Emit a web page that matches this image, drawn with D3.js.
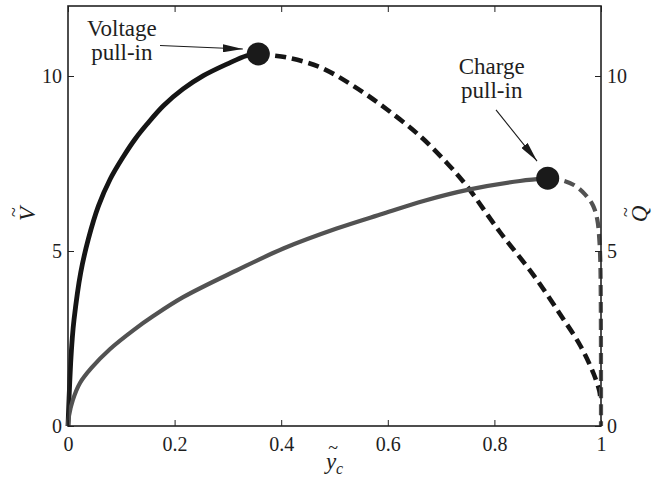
<!DOCTYPE html>
<html>
<head>
<meta charset="utf-8">
<script src="https://cdn.jsdelivr.net/npm/d3@7"></script>
<style>
  body { margin: 0; background: #fff; }
</style>
</head>
<body>
<div id="main"></div>
<script>
// voltage curve, stable branch (solid) and unstable branch (dashed)
var ycVStable = [0, 0.002, 0.005, 0.008, 0.0113, 0.0238, 0.038, 0.057, 0.079, 0.104, 0.126, 0.148, 0.179, 0.216, 0.254, 0.298, 0.335, 0.357];
var vStable = [0, 0.8, 1.8, 2.5, 3.04, 4.38, 5.33, 6.28, 7.05, 7.7, 8.2, 8.62, 9.15, 9.63, 10.01, 10.34, 10.58, 10.63];
var ycVUnstable = [0.357, 0.41, 0.473, 0.535, 0.598, 0.66, 0.71, 0.748, 0.81, 0.873, 0.923, 0.961, 0.986, 0.997, 0.999];
var vUnstable = [10.63, 10.53, 10.25, 9.72, 9.05, 8.29, 7.53, 6.86, 5.55, 4.32, 3.2, 2.3, 1.5, 1.0, 0.75];

// charge curve
var ycQStable = [0, 0.002, 0.009, 0.0225, 0.044, 0.079, 0.123, 0.16, 0.216, 0.317, 0.404, 0.504, 0.592, 0.667, 0.754, 0.848, 0.9];
var qStable = [0, 0.3, 0.74, 1.23, 1.66, 2.2, 2.74, 3.14, 3.68, 4.45, 5.07, 5.64, 6.07, 6.43, 6.76, 7.0, 7.08];
var ycQUnstable = [0.9, 0.925, 0.95, 0.97, 0.985, 0.993, 0.997, 0.999, 1.0];
var qUnstable = [7.08, 7.03, 6.88, 6.62, 6.3, 5.9, 5.3, 4.5, 0];

// pull-in points
var pullIn = [{ yc: 0.357, val: 10.63 }, { yc: 0.9, val: 7.08 }];

var xTicks = [0, 0.2, 0.4, 0.6, 0.8, 1];
var yTicks = [0, 5, 10];

var serif = '"Liberation Serif", "DejaVu Serif", "Times New Roman", serif';
var outerWidth = 669, outerHeight = 480;
var marginTop = 6, marginRight = 68, marginBottom = 54, marginLeft = 68;
var innerWidth = outerWidth - marginLeft - marginRight;
var innerHeight = outerHeight - marginTop - marginBottom;

var xScale = d3.scaleLinear().domain([0, 1]).range([0, innerWidth]);
var yScale = d3.scaleLinear().domain([0, 12]).range([innerHeight, 0]);

var svg = d3.select("#main").append("svg")
    .attr("width", outerWidth)
    .attr("height", outerHeight)
    .style("font-family", serif);

var g = svg.append("g")
    .attr("transform", "translate(" + marginLeft + "," + marginTop + ")");

function zip(xs, ys) {
    return xs.map((d, i) => [d, ys[i]]);
}

var line = d3.line()
    .x(d => xScale(d[0]))
    .y(d => yScale(d[1]))
    .curve(d3.curveCatmullRom.alpha(0.5));

var black = "#151515", grey = "#525252";

g.append("path").attr("d", line(zip(ycVStable, vStable)))
    .attr("fill", "none").attr("stroke", black).attr("stroke-width", 4.8);
g.append("path").attr("d", line(zip(ycVUnstable, vUnstable)))
    .attr("fill", "none").attr("stroke", black).attr("stroke-width", 4.6)
    .attr("stroke-dasharray", "11,6");
g.append("path").attr("d", line(zip(ycQStable, qStable)))
    .attr("fill", "none").attr("stroke", grey).attr("stroke-width", 4.2);
g.append("path").attr("d", line(zip(ycQUnstable, qUnstable)))
    .attr("fill", "none").attr("stroke", grey).attr("stroke-width", 4.2)
    .attr("stroke-dasharray", "11,6");

g.selectAll("circle.pull").data(pullIn).enter()
    .append("circle")
    .attr("class", "pull")
    .attr("cx", d => xScale(d.yc))
    .attr("cy", d => yScale(d.val))
    .attr("r", 11.5)
    .attr("fill", "#1a1a1a");

// axes, ticks pointing inward
function styleAxis(sel) {
    sel.attr("font-family", null);
    sel.select(".domain").remove();
    sel.selectAll(".tick line").attr("stroke", "#222").attr("stroke-width", 1);
    sel.selectAll(".tick text")
        .style("font-family", serif)
        .style("font-size", "20px")
        .attr("fill", "#1e1e1e");
}

g.append("g").attr("transform", "translate(0," + innerHeight + ")")
    .call(d3.axisBottom(xScale).tickValues(xTicks).tickSize(-6).tickSizeOuter(0).tickPadding(11).tickFormat(d3.format("")))
    .call(styleAxis);
g.append("g")
    .call(d3.axisTop(xScale).tickValues(xTicks).tickSize(-6).tickSizeOuter(0).tickFormat(""))
    .call(styleAxis);
g.append("g")
    .call(d3.axisLeft(yScale).tickValues(yTicks).tickSize(-6).tickSizeOuter(0).tickPadding(6))
    .call(styleAxis);
g.append("g").attr("transform", "translate(" + innerWidth + ",0)")
    .call(d3.axisRight(yScale).tickValues(yTicks).tickSize(-6).tickSizeOuter(0).tickPadding(6))
    .call(styleAxis);

g.append("rect")
    .attr("width", innerWidth).attr("height", innerHeight)
    .attr("fill", "none").attr("stroke", "#222").attr("stroke-width", 1.6);

// annotations
svg.append("defs").append("marker")
    .attr("id", "head")
    .attr("viewBox", "0 0 20 8")
    .attr("refX", 20).attr("refY", 4)
    .attr("markerWidth", 20).attr("markerHeight", 8)
    .attr("markerUnits", "userSpaceOnUse")
    .attr("orient", "auto")
    .append("path").attr("d", "M0,0 L20,4 L0,8 Z").attr("fill", "#1a1a1a");

var notes = [
    { lines: ["Voltage", "pull-in"], tx: 0.101, ty: 11.15, from: [0.1726, 10.87], to: [0.328, 10.77] },
    { lines: ["Charge", "pull-in"], tx: 0.795, ty: 10.06, from: [0.803, 9.03], to: [0.88, 7.57] }
];

notes.forEach(n => {
    var t = g.append("text")
        .attr("text-anchor", "middle")
        .style("font-family", serif)
        .style("font-size", "23px")
        .attr("fill", "#1e1e1e");
    n.lines.forEach((s, i) => {
        t.append("tspan")
            .attr("x", xScale(n.tx))
            .attr("y", yScale(n.ty) + i * 24)
            .text(s);
    });
    g.append("line")
        .attr("x1", xScale(n.from[0])).attr("y1", yScale(n.from[1]))
        .attr("x2", xScale(n.to[0])).attr("y2", yScale(n.to[1]))
        .attr("stroke", "#1a1a1a").attr("stroke-width", 1.1)
        .attr("marker-end", "url(#head)");
});

// axis labels with tilde accents
function tildeLabel(parent, letter, sub) {
    parent.append("text").attr("text-anchor", "middle")
        .style("font-family", serif)
        .style("font-size", "23px").style("font-style", "italic")
        .attr("fill", "#1e1e1e")
        .attr("x", 0).attr("y", 7).text(letter);
    parent.append("text").attr("text-anchor", "middle")
        .style("font-family", serif)
        .style("font-size", "18px")
        .attr("fill", "#1e1e1e")
        .attr("x", 2).attr("y", -8).text("~");
    if (sub) {
        parent.append("text")
            .style("font-family", serif)
            .style("font-size", "16px").style("font-style", "italic")
            .attr("fill", "#1e1e1e")
            .attr("x", 5).attr("y", 12).text(sub);
    }
}

tildeLabel(svg.append("g").attr("transform", "translate(331,462)"), "y", "c");
tildeLabel(svg.append("g").attr("transform", "translate(28,214) rotate(-90)"), "V");
tildeLabel(svg.append("g").attr("transform", "translate(640,214) rotate(-90)"), "Q");
</script>
</body>
</html>
